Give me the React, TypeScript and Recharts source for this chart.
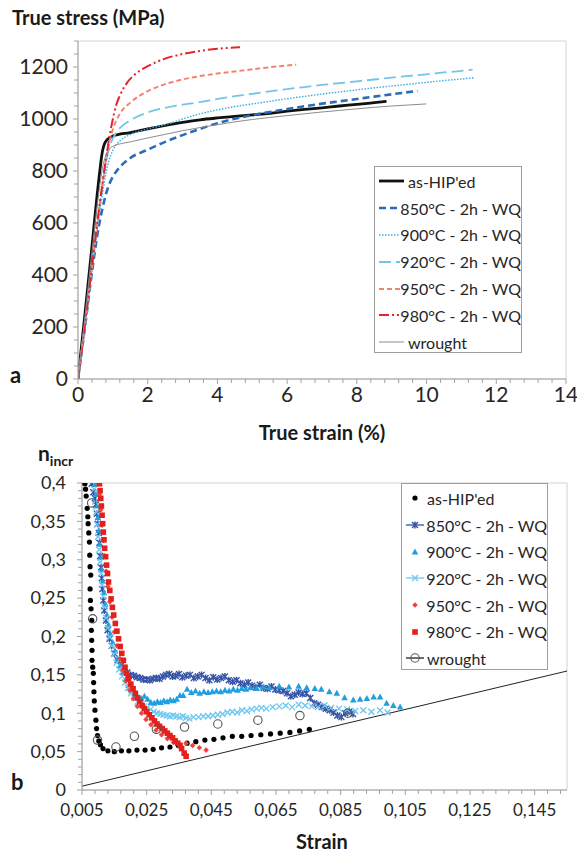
import React from "react";
import { ComposedChart, Line, Scatter, XAxis, YAxis, ReferenceArea } from "recharts";

const FONT = "Lato, 'Open Sans', Arial, sans-serif";
const AXIS = "#a3a3a3";
const BORDER = "#d2d2d2";
const TXT = "#262626";

// ---------- panel a : true stress (MPa) vs true strain (%) ----------
const strainTicksA = [0, 2, 4, 6, 8, 10, 12, 14];
const strainLabelsA = ["0", "2", "4", "6", "8", "10", "12", "14"];
const stressTicksA = [0, 200, 400, 600, 800, 1000, 1200];
const stressLabelsA = ["0", "200", "400", "600", "800", "1000", "1200"];

const asHipedA = [[0,0],[0.2,250],[0.4,510],[0.6,770],[0.7,875],[0.76,905],[0.85,922],[1.0,934],[1.5,948],[2,962],[2.5,975],[3,987],[3.5,997],[4,1004],[4.5,1010],[5,1016],[5.5,1022],[6,1030],[6.5,1037],[7,1043],[7.5,1050],[8,1056],[8.5,1063],[8.85,1068]];
const t850A = [[0,0],[0.2,200],[0.4,410],[0.6,590],[0.7,655],[0.8,710],[0.9,750],[1.0,778],[1.2,815],[1.5,850],[2,882],[2.5,912],[3,938],[3.5,962],[4,984],[4.5,1001],[5,1015],[5.5,1027],[6,1038],[6.5,1049],[7,1059],[7.5,1068],[8,1077],[8.5,1086],[9,1095],[9.74,1108]];
const t900A = [[0,0],[0.2,200],[0.4,420],[0.6,620],[0.7,710],[0.8,790],[0.9,845],[1.0,880],[1.2,915],[1.5,940],[2,962],[2.5,978],[3,1000],[3.5,1020],[4,1035],[4.5,1048],[5,1058],[5.5,1068],[6,1078],[6.5,1087],[7,1096],[7.5,1104],[8,1112],[8.5,1120],[9,1127],[9.5,1134],[10,1141],[10.5,1148],[11,1154],[11.38,1159]];
const t920A = [[0,0],[0.2,210],[0.4,430],[0.6,640],[0.7,740],[0.8,830],[0.9,890],[1.0,925],[1.2,965],[1.5,995],[2,1025],[2.5,1043],[3,1055],[3.5,1065],[4,1077],[4.5,1088],[5,1097],[5.5,1106],[6,1115],[6.5,1123],[7,1131],[7.5,1138],[8,1145],[8.5,1152],[9,1159],[9.5,1166],[10,1172],[10.5,1179],[11,1185],[11.32,1190]];
const t950A = [[0,0],[0.2,210],[0.4,430],[0.6,650],[0.7,750],[0.8,840],[0.9,910],[1.0,960],[1.2,1020],[1.5,1063],[2,1107],[2.5,1134],[3,1152],[3.5,1165],[4,1175],[4.5,1183],[5,1191],[5.5,1199],[6.26,1209]];
const t980A = [[0,0],[0.2,210],[0.4,430],[0.6,650],[0.7,750],[0.8,845],[0.9,930],[1.0,1000],[1.1,1055],[1.2,1090],[1.4,1138],[1.6,1168],[1.8,1188],[2,1203],[2.5,1232],[3,1250],[3.5,1262],[4,1270],[4.65,1276]];
const wroughtA = [[0,0],[0.2,240],[0.4,490],[0.6,720],[0.7,810],[0.8,860],[0.9,885],[1.0,895],[1.5,912],[2,927],[2.5,941],[3,955],[3.5,967],[4,978],[4.5,989],[5,998],[5.5,1006],[6,1013],[6.5,1020],[7,1027],[7.5,1033],[8,1039],[8.5,1045],[9,1050],[9.5,1054],[9.99,1058]];

const seriesA = [
  { name: "as-HIP'ed", data: asHipedA, color: "#111111", width: 2.8, dash: undefined },
  { name: "850°C - 2h - WQ", data: t850A, color: "#2b6cb8", width: 2.6, dash: "7 4" },
  { name: "900°C - 2h - WQ", data: t900A, color: "#3aaae2", width: 1.4, dash: "1.5 1.5" },
  { name: "920°C - 2h - WQ", data: t920A, color: "#74c4ea", width: 1.8, dash: "12 5" },
  { name: "950°C - 2h - WQ", data: t950A, color: "#f3826f", width: 2, dash: "5 3" },
  { name: "980°C - 2h - WQ", data: t980A, color: "#e2252c", width: 2, dash: "10 3 2 3 2 3" },
  { name: "wrought", data: wroughtA, color: "#8c8c8c", width: 1, dash: undefined },
];

// ---------- panel b : n_incr vs strain ----------
const strainTicksB = [0.005, 0.025, 0.045, 0.065, 0.085, 0.105, 0.125, 0.145];
const strainLabelsB = ["0,005", "0,025", "0,045", "0,065", "0,085", "0,105", "0,125", "0,145"];
const nTicks = [0, 0.05, 0.1, 0.15, 0.2, 0.25, 0.3, 0.35, 0.4];
const nLabels = ["0", "0,05", "0,1", "0,15", "0,2", "0,25", "0,3", "0,35", "0,4"];

const asHipedB = [[0.0059,0.399],[0.0061,0.392],[0.0063,0.383],[0.0066,0.367],[0.0068,0.356],[0.0069,0.347],[0.0071,0.335],[0.0073,0.323],[0.0074,0.306],[0.0075,0.291],[0.0077,0.280],[0.0075,0.262],[0.0076,0.247],[0.0078,0.236],[0.0080,0.221],[0.0079,0.208],[0.0080,0.195],[0.0081,0.182],[0.0081,0.169],[0.0083,0.160],[0.0085,0.152],[0.0086,0.140],[0.0087,0.128],[0.0088,0.116],[0.0090,0.104],[0.0093,0.091],[0.0095,0.080],[0.0098,0.071],[0.0102,0.064],[0.0107,0.059],[0.0115,0.054],[0.0130,0.051],[0.0150,0.050],[0.0172,0.051],[0.0195,0.051],[0.0220,0.052],[0.0245,0.052],[0.0270,0.053],[0.0296,0.055],[0.0322,0.056],[0.0348,0.058],[0.0375,0.061],[0.0402,0.063],[0.0430,0.065],[0.0458,0.066],[0.0486,0.068],[0.0515,0.070],[0.0544,0.070],[0.0573,0.071],[0.0603,0.072],[0.0633,0.073],[0.0663,0.074],[0.0693,0.075],[0.0723,0.077],[0.0753,0.079]];
const t850B = [[0.0080,0.399],[0.0085,0.388],[0.0090,0.380],[0.0093,0.372],[0.0096,0.360],[0.0099,0.347],[0.0102,0.335],[0.0104,0.322],[0.0106,0.305],[0.0109,0.290],[0.0111,0.276],[0.0113,0.262],[0.0116,0.247],[0.0119,0.234],[0.0124,0.221],[0.0129,0.208],[0.0135,0.197],[0.0142,0.188],[0.0150,0.178],[0.0160,0.169],[0.0170,0.162],[0.0180,0.157],[0.0190,0.153],[0.0200,0.150],[0.0210,0.149],[0.0220,0.147],[0.0230,0.146],[0.0240,0.144],[0.0250,0.144],[0.0260,0.143],[0.0270,0.145],[0.0280,0.146],[0.0290,0.145],[0.0300,0.148],[0.0310,0.150],[0.0320,0.151],[0.0330,0.148],[0.0340,0.149],[0.0350,0.151],[0.0360,0.147],[0.0372,0.149],[0.0384,0.150],[0.0396,0.146],[0.0408,0.148],[0.0420,0.150],[0.0432,0.146],[0.0444,0.143],[0.0456,0.147],[0.0468,0.144],[0.0480,0.146],[0.0492,0.148],[0.0504,0.143],[0.0516,0.141],[0.0528,0.143],[0.0540,0.139],[0.0552,0.137],[0.0564,0.140],[0.0576,0.136],[0.0588,0.134],[0.0600,0.137],[0.0612,0.133],[0.0624,0.132],[0.0636,0.135],[0.0648,0.131],[0.0660,0.130],[0.0672,0.129],[0.0684,0.126],[0.0696,0.122],[0.0708,0.124],[0.0720,0.127],[0.0732,0.125],[0.0744,0.126],[0.0756,0.120],[0.0768,0.113],[0.0780,0.111],[0.0792,0.108],[0.0804,0.106],[0.0816,0.104],[0.0828,0.101],[0.0840,0.097],[0.0852,0.095],[0.0864,0.100],[0.0876,0.102],[0.0888,0.099]];
const t900B = [[0.0090,0.398],[0.0093,0.385],[0.0096,0.370],[0.0099,0.355],[0.0102,0.338],[0.0105,0.320],[0.0108,0.303],[0.0111,0.287],[0.0114,0.272],[0.0118,0.257],[0.0122,0.242],[0.0127,0.228],[0.0132,0.215],[0.0138,0.203],[0.0145,0.192],[0.0152,0.181],[0.0160,0.171],[0.0168,0.162],[0.0176,0.153],[0.0185,0.144],[0.0194,0.136],[0.0203,0.129],[0.0213,0.124],[0.0223,0.121],[0.0233,0.119],[0.0243,0.122],[0.0253,0.118],[0.0263,0.114],[0.0273,0.113],[0.0283,0.115],[0.0293,0.114],[0.0303,0.116],[0.0313,0.115],[0.0323,0.117],[0.0333,0.116],[0.0343,0.118],[0.0353,0.123],[0.0363,0.123],[0.0375,0.131],[0.0388,0.127],[0.0401,0.129],[0.0414,0.126],[0.0427,0.128],[0.0440,0.127],[0.0453,0.128],[0.0466,0.129],[0.0479,0.128],[0.0492,0.130],[0.0505,0.129],[0.0518,0.131],[0.0531,0.130],[0.0544,0.132],[0.0557,0.131],[0.0570,0.133],[0.0590,0.132],[0.0610,0.134],[0.0630,0.133],[0.0660,0.135],[0.0690,0.134],[0.0720,0.135],[0.0745,0.133],[0.0770,0.132],[0.0790,0.131],[0.0815,0.128],[0.0838,0.126],[0.0862,0.120],[0.0889,0.117],[0.0910,0.118],[0.0931,0.119],[0.0952,0.121],[0.0972,0.121],[0.0992,0.113],[0.1013,0.110],[0.1034,0.108]];
const t920B = [[0.0088,0.392],[0.0091,0.376],[0.0094,0.362],[0.0097,0.346],[0.0100,0.330],[0.0103,0.313],[0.0106,0.297],[0.0109,0.282],[0.0112,0.267],[0.0116,0.252],[0.0120,0.238],[0.0125,0.224],[0.0130,0.211],[0.0136,0.199],[0.0142,0.188],[0.0149,0.177],[0.0157,0.166],[0.0165,0.157],[0.0174,0.148],[0.0183,0.140],[0.0192,0.133],[0.0202,0.126],[0.0212,0.120],[0.0222,0.115],[0.0232,0.111],[0.0242,0.109],[0.0252,0.107],[0.0262,0.105],[0.0272,0.102],[0.0282,0.100],[0.0292,0.099],[0.0302,0.098],[0.0312,0.097],[0.0322,0.096],[0.0332,0.097],[0.0342,0.096],[0.0352,0.095],[0.0362,0.096],[0.0372,0.094],[0.0382,0.093],[0.0395,0.095],[0.0410,0.095],[0.0425,0.096],[0.0440,0.096],[0.0455,0.097],[0.0470,0.098],[0.0485,0.099],[0.0500,0.101],[0.0515,0.102],[0.0530,0.101],[0.0545,0.104],[0.0560,0.103],[0.0575,0.105],[0.0590,0.106],[0.0605,0.107],[0.0620,0.106],[0.0640,0.108],[0.0660,0.109],[0.0680,0.110],[0.0700,0.108],[0.0720,0.111],[0.0740,0.110],[0.0760,0.109],[0.0780,0.108],[0.0800,0.110],[0.0820,0.107],[0.0845,0.106],[0.0870,0.105],[0.0895,0.103],[0.0920,0.104],[0.0945,0.102],[0.0972,0.104],[0.0995,0.101]];
const t950B = [[0.0100,0.400],[0.0104,0.385],[0.0108,0.365],[0.0112,0.345],[0.0116,0.325],[0.0120,0.305],[0.0125,0.285],[0.0130,0.265],[0.0136,0.245],[0.0143,0.225],[0.0150,0.206],[0.0158,0.188],[0.0167,0.171],[0.0176,0.156],[0.0186,0.142],[0.0197,0.130],[0.0209,0.119],[0.0221,0.109],[0.0234,0.100],[0.0248,0.092],[0.0263,0.085],[0.0279,0.078],[0.0296,0.072],[0.0314,0.067],[0.0333,0.062],[0.0352,0.060],[0.0372,0.061],[0.0392,0.058],[0.0413,0.055],[0.0434,0.052]];
const t980B = [[0.0104,0.399],[0.0106,0.390],[0.0108,0.380],[0.0110,0.370],[0.0112,0.358],[0.0114,0.347],[0.0116,0.336],[0.0118,0.326],[0.0120,0.315],[0.0123,0.304],[0.0126,0.293],[0.0129,0.282],[0.0132,0.271],[0.0136,0.260],[0.0140,0.249],[0.0144,0.238],[0.0148,0.228],[0.0153,0.217],[0.0158,0.207],[0.0163,0.197],[0.0168,0.187],[0.0173,0.178],[0.0178,0.169],[0.0183,0.160],[0.0188,0.152],[0.0194,0.145],[0.0201,0.138],[0.0208,0.132],[0.0215,0.126],[0.0222,0.120],[0.0229,0.115],[0.0236,0.110],[0.0243,0.106],[0.0250,0.102],[0.0258,0.098],[0.0266,0.094],[0.0274,0.090],[0.0282,0.086],[0.0290,0.083],[0.0298,0.080],[0.0306,0.077],[0.0314,0.074],[0.0322,0.071],[0.0330,0.068],[0.0338,0.064],[0.0346,0.061],[0.0353,0.058],[0.0358,0.054],[0.0366,0.048],[0.0372,0.044]];
const wroughtB = [[0.0080,0.374],[0.0083,0.223],[0.0098,0.065],[0.0155,0.056],[0.0212,0.070],[0.0280,0.079],[0.0367,0.082],[0.0470,0.086],[0.0594,0.091],[0.0724,0.097],[0.0872,0.100]];
// n = strain reference line
const considere = [[0.005, 0.005], [0.155, 0.155]];

const toXY = (pts: number[][]) => pts.map(([x, y]) => ({ x, y }));

// minor tick positions (labels only on the majors above)
const strainMinorA = Array.from({ length: 36 }, (_, i) => Math.round(i * 4) / 10);
const stressMinorA = Array.from({ length: 27 }, (_, i) => i * 50);
const nMinor = Array.from({ length: 41 }, (_, i) => i / 100);
const strainMinorB = Array.from({ length: 38 }, (_, i) => Math.round((0.005 + i * 0.004) * 1000) / 1000);

type Side = "left" | "bottom" | "right";
const makeTick =
  (side: Side, major: number[], labels: string[], fontSize: number, gap: number) =>
  (props: any) => {
    const { x, y, payload } = props;
    const i = major.findIndex((m) => Math.abs(m - payload.value) < 1e-9);
    const len = i >= 0 ? 5 : 4;
    if (side === "bottom") {
      return (
        <g>
          <line x1={x} x2={x} y1={y} y2={y + len} stroke={AXIS} />
          {i >= 0 && (
            <text x={x} y={y + gap} textAnchor="middle" fontSize={fontSize} fontFamily={FONT} fill={TXT}>
              {labels[i]}
            </text>
          )}
        </g>
      );
    }
    if (side === "right") {
      return i >= 0 ? <line x1={x - 5} x2={x} y1={y} y2={y} stroke={AXIS} /> : <g />;
    }
    return (
      <g>
        <line x1={x - len} x2={x} y1={y} y2={y} stroke={AXIS} />
        {i >= 0 && (
          <text x={x - gap} y={y} dy="0.35em" textAnchor="end" fontSize={fontSize} fontFamily={FONT} fill={TXT}>
            {labels[i]}
          </text>
        )}
      </g>
    );
  };

// marker shapes for panel b
const C850 = "#3553a6";
const C900 = "#1f9fe0";
const C920 = "#6cc7ef";
const markers: Record<string, (cx: number, cy: number) => React.ReactElement> = {
  dot: (cx, cy) => <circle cx={cx} cy={cy} r={2.6} fill="#000" />,
  star: (cx, cy) => (
    <path
      d={`M${cx - 3},${cy - 3}L${cx + 3},${cy + 3}M${cx - 3},${cy + 3}L${cx + 3},${cy - 3}M${cx},${cy - 3.5}L${cx},${cy + 3.5}`}
      stroke={C850}
      strokeWidth={1.4}
      fill="none"
    />
  ),
  tri: (cx, cy) => <path d={`M${cx},${cy - 3.6}L${cx + 3.3},${cy + 2.4}L${cx - 3.3},${cy + 2.4}Z`} fill={C900} />,
  cross: (cx, cy) => (
    <path d={`M${cx - 3},${cy - 3}L${cx + 3},${cy + 3}M${cx - 3},${cy + 3}L${cx + 3},${cy - 3}`} stroke={C920} strokeWidth={1.3} fill="none" />
  ),
  diamond: (cx, cy) => <path d={`M${cx},${cy - 2.8}L${cx + 2.8},${cy}L${cx},${cy + 2.8}L${cx - 2.8},${cy}Z`} fill="#f0443f" />,
  square: (cx, cy) => <rect x={cx - 2.8} y={cy - 2.8} width={5.6} height={5.6} fill="#e3201b" />,
  ring: (cx, cy) => <circle cx={cx} cy={cy} r={4.2} fill="none" stroke="#555" strokeWidth={1.1} />,
};

const seriesB = [
  { name: "as-HIP'ed", data: asHipedB, marker: "dot", legendLine: undefined },
  { name: "850°C - 2h - WQ", data: t850B, marker: "star", legendLine: C850 },
  { name: "900°C - 2h - WQ", data: t900B, marker: "tri", legendLine: undefined },
  { name: "920°C - 2h - WQ", data: t920B, marker: "cross", legendLine: C920 },
  { name: "950°C - 2h - WQ", data: t950B, marker: "diamond", legendLine: undefined },
  { name: "980°C - 2h - WQ", data: t980B, marker: "square", legendLine: undefined },
  { name: "wrought", data: wroughtB, marker: "ring", legendLine: "#222" },
];

function LegendA() {
  return (
    <div
      style={{
        position: "absolute", left: 374, top: 166, width: 148, height: 187,
        border: "1px solid #9e9e9e", background: "#fff", boxSizing: "border-box", paddingTop: 1,
      }}
    >
      {seriesA.map((s) => (
        <div key={s.name} style={{ display: "flex", alignItems: "center", height: 26.8 }}>
          <svg width={30} height={12} style={{ marginLeft: 3 }}>
            <line x1={1} x2={26} y1={6} y2={6} stroke={s.color} strokeWidth={s.width} strokeDasharray={s.dash} />
          </svg>
          <span style={{ fontFamily: FONT, fontSize: 16, color: TXT, whiteSpace: "nowrap" }}>{s.name}</span>
        </div>
      ))}
    </div>
  );
}

function LegendB() {
  return (
    <div
      style={{
        position: "absolute", left: 401, top: 483, width: 147, height: 187,
        border: "1px solid #9e9e9e", background: "#fff", boxSizing: "border-box", paddingTop: 1,
      }}
    >
      {seriesB.map((s) => (
        <div key={s.name} style={{ display: "flex", alignItems: "center", height: 26.7 }}>
          <svg width={24} height={12} style={{ marginLeft: 1 }}>
            {s.legendLine && <line x1={3} x2={21} y1={6} y2={6} stroke={s.legendLine} strokeWidth={1.3} />}
            {markers[s.marker](12, 6)}
          </svg>
          <span style={{ fontFamily: FONT, fontSize: 16, color: TXT, whiteSpace: "nowrap" }}>{s.name}</span>
        </div>
      ))}
    </div>
  );
}

function PanelA() {
  return (
    <ComposedChart width={577} height={440} margin={{ top: 41, right: 11, bottom: 31, left: 0 }}>
      <ReferenceArea x1={0} x2={14} y1={0} y2={1300} fill="none" stroke={BORDER} ifOverflow="visible" />
      <XAxis
        type="number" dataKey="x" domain={[0, 14]} ticks={strainMinorA} interval={0}
        tickSize={0} tickMargin={0} tickLine={false} axisLine={{ stroke: AXIS }} height={30}
        tick={makeTick("bottom", strainTicksA, strainLabelsA, 21, 23)} allowDataOverflow
      />
      <YAxis
        type="number" dataKey="y" domain={[0, 1300]} ticks={stressMinorA} interval={0}
        tickSize={0} tickMargin={0} tickLine={false} axisLine={{ stroke: AXIS }} width={78}
        tick={makeTick("left", stressTicksA, stressLabelsA, 21, 10)} allowDataOverflow
      />
      {seriesA.map((s) => (
        <Line
          key={s.name} name={s.name} data={toXY(s.data)} dataKey="y" type="monotone"
          stroke={s.color} strokeWidth={s.width} strokeDasharray={s.dash}
          dot={false} activeDot={false} isAnimationActive={false}
        />
      ))}
    </ComposedChart>
  );
}

function PanelB() {
  return (
    <ComposedChart width={577} height={414} margin={{ top: 43, right: 0, bottom: 34, left: 0 }}>
      <ReferenceArea x1={0.005} x2={0.155} y1={0} y2={0.4} fill="none" stroke={BORDER} ifOverflow="visible" />
      <XAxis
        type="number" dataKey="x" domain={[0.005, 0.155]} ticks={strainMinorB} interval={0}
        tickSize={0} tickMargin={0} tickLine={false} axisLine={{ stroke: AXIS }} height={30}
        tick={makeTick("bottom", strainTicksB, strainLabelsB, 17, 26)} allowDataOverflow
      />
      <YAxis
        type="number" dataKey="y" domain={[0, 0.4]} ticks={nMinor} interval={0}
        tickSize={0} tickMargin={0} tickLine={false} axisLine={{ stroke: AXIS }} width={82}
        tick={makeTick("left", nTicks, nLabels, 18, 16)} allowDataOverflow
      />
      <YAxis
        yAxisId="r" orientation="right" type="number" domain={[0, 0.4]} ticks={nTicks} interval={0}
        tickSize={0} tickMargin={0} tickLine={false} axisLine={false} width={10}
        tick={makeTick("right", nTicks, nLabels, 18, 0)}
      />
      <Line
        data={toXY(considere)} dataKey="y" type="linear" stroke="#222" strokeWidth={1}
        dot={false} activeDot={false} isAnimationActive={false}
      />
      {seriesB.map((s) => (
        <Scatter
          key={s.name} name={s.name} data={toXY(s.data)} isAnimationActive={false}
          shape={(p: any) => markers[s.marker](p.cx, p.cy)}
        />
      ))}
    </ComposedChart>
  );
}

export default function App() {
  const title = { fontFamily: FONT, fontWeight: 700, fill: "#1a1a1a" } as const;
  return (
    <div style={{ position: "absolute", left: 0, top: 0, width: 577, height: 854, background: "#fff", overflow: "hidden" }}>
      <div style={{ position: "absolute", left: 0, top: 0 }}>
        <PanelA />
      </div>
      <div style={{ position: "absolute", left: 0, top: 440 }}>
        <PanelB />
      </div>
      <LegendA />
      <LegendB />
      <svg width={577} height={854} style={{ position: "absolute", left: 0, top: 0, pointerEvents: "none" }}>
        <text x={12} y={25} fontSize={20} {...title}>True stress (MPa)</text>
        <text x={322} y={440} fontSize={20} textAnchor="middle" {...title}>True strain (%)</text>
        <text x={10} y={383} fontSize={22} {...title}>a</text>
        <text x={38} y={461} fontSize={21} {...title}>
          n<tspan fontSize={14} dy={5}>incr</tspan>
        </text>
        <text x={11} y={790} fontSize={22} {...title}>b</text>
        <text x={322} y={849} fontSize={20} textAnchor="middle" {...title}>Strain</text>
      </svg>
    </div>
  );
}
